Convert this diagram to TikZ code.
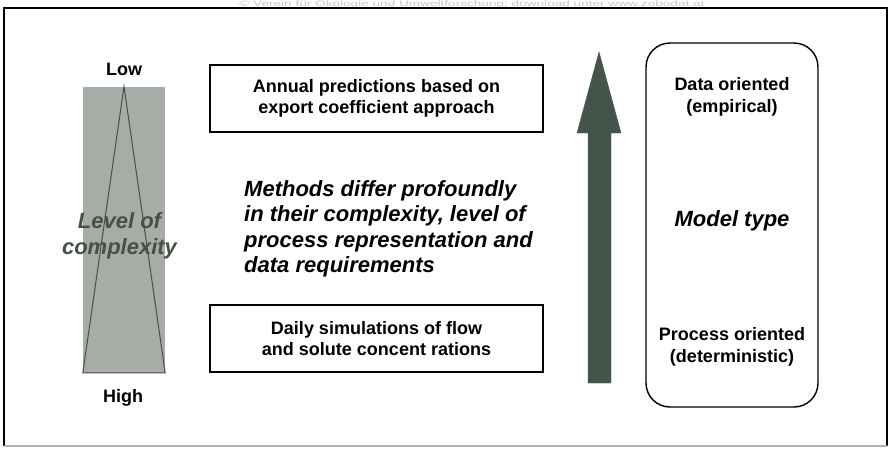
\documentclass[tikz,border=0pt]{standalone}
\usepackage{fontspec}
\setmainfont{Liberation Sans}
\usetikzlibrary{positioning}
\definecolor{sagegray}{RGB}{166, 172, 166}
\definecolor{slategreen}{RGB}{68, 84, 74}
\definecolor{complexgray}{RGB}{70, 80, 72}
\definecolor{markgray}{RGB}{200, 200, 200}

\begin{document}
\begin{tikzpicture}[x=1pt, y=-1pt,
    plaintext/.style={font=\bfseries\fontsize{18}{21.5}\selectfont, align=center, inner sep=0pt},
    bigtext/.style={font=\bfseries\itshape\fontsize{22}{25.5}\selectfont, inner sep=0pt},
    methodbox/.style={draw, line width=1.4pt, minimum width=333pt, minimum height=67pt, plaintext}]
            \useasboundingbox (0, 0) rectangle (893, 448);
            % Watermark & frame
            \node[color=markgray, font=\fontsize{8}{9}\selectfont, anchor=base, xscale=1.7, inner sep=0pt] (mark) at (472, 6)
                 {© Verein für Ökologie und Umweltforschung; download unter www.zobodat.at};
            \draw[line width=1.2pt]                      (4, 446) -- (4, 8) -- (887, 8) -- (887, 446);
            \draw[line width=1.2pt, color=gray!60]       (4, 446) -- (887, 446);
            % Level of complexity
            \node[fill=sagegray, minimum width=82pt, minimum height=286pt, inner sep=0pt] (bar) at (124, 229.7) {};
            \draw[complexgray, line width=1pt] (bar.north) -- (bar.south west) -- (bar.south east) -- cycle;
            \node[plaintext, anchor=base] (low)  at (124, 75)  {Low};
            \node[plaintext, anchor=base] (high) at (123, 402) {High};
            \node[bigtext, color=complexgray, align=center] (complexity) at (119.5, 236) {Level of\\complexity};
            % Methods
            \node[methodbox] (annual) at (376.5, 98.5)  {Annual predictions based on\\export coefficient approach};
            \node[methodbox] (daily)  at (376.5, 338.5) {Daily simulations of flow\\and solute concent rations};
            \node[bigtext, align=left, anchor=west] (differ) at (244, 229)
                 {Methods differ profoundly\\in their complexity, level of\\process representation and\\data requirements};
            % Arrow
            \filldraw[slategreen] (588, 383) -- (588, 133) -- (577, 133) -- (599, 52)
                                  -- (621, 133) -- (611, 133) -- (611, 383) -- cycle;
            % Model type
            \draw[line width=1.4pt, rounded corners=24pt] (646, 43) rectangle (818, 407);
            \node[plaintext] (data)    at (732, 97)  {Data oriented\\(empirical)};
            \node[bigtext]   (model)   at (732, 221) {Model type};
            \node[plaintext] (process) at (732, 347) {Process oriented\\(deterministic)};
\end{tikzpicture}
\end{document}
